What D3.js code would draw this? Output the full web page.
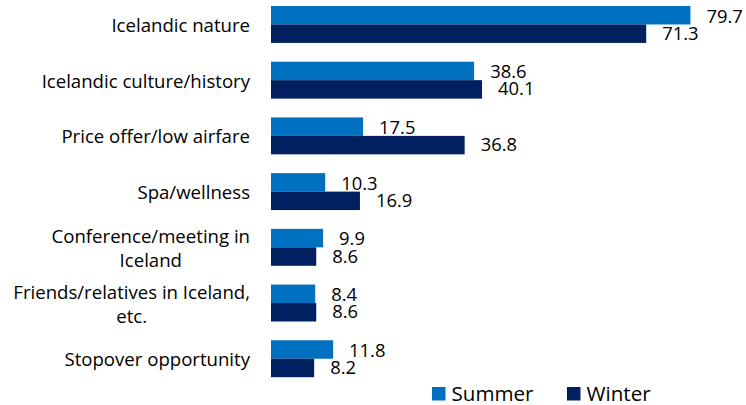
<!DOCTYPE html>
<html lang="en">
<head>
<meta charset="UTF-8">
<title>Reasons for travel</title>
<script src="https://d3js.org/d3.v7.min.js"></script>
<style>
  body { margin: 0; background: #fff; }
  text { font-family: "Open Sans", sans-serif; fill: #000; }
  .cat { font-size: 18.6px; }
  .val { font-size: 18.4px; }
  .legend text { font-size: 20.6px; }
</style>
</head>
<body>
<script>
// categories (\n marks where the label wraps)
const categories = [
  "Icelandic nature",
  "Icelandic culture/history",
  "Price offer/low airfare",
  "Spa/wellness",
  "Conference/meeting in\nIceland",
  "Friends/relatives in Iceland,\netc.",
  "Stopover opportunity"
];
const series = ["Summer", "Winter"];
const summer = [79.7, 38.6, 17.5, 10.3, 9.9, 8.4, 11.8];
const winter = [71.3, 40.1, 36.8, 16.9, 8.6, 8.6, 8.2];
const colors = ["#0070C0", "#002060"];

const width = 746, height = 405;

const svg = d3.select("body").append("svg")
    .attr("width", width)
    .attr("height", height);

const x = d3.scaleLinear().domain([0, 80]).range([271, 692]);
const y = d3.scaleBand().domain(categories).range([-3.4, 386.6])
    .paddingInner(0.337).paddingOuter(0.1685);
const ySub = d3.scaleBand().domain(series).range([0, y.bandwidth()]);

const rows = categories.map((c, i) => ({cat: c, vals: [summer[i], winter[i]]}));

const group = svg.selectAll(".grp")
    .data(rows)
    .enter().append("g")
    .attr("class", "grp")
    .attr("transform", d => "translate(0," + y(d.cat) + ")");

group.selectAll("rect")
    .data(d => d.vals.map((v, k) => ({s: series[k], v: v, k: k})))
    .enter().append("rect")
    .attr("x", x(0))
    .attr("y", d => ySub(d.s))
    .attr("width", d => x(d.v) - x(0))
    .attr("height", ySub.bandwidth())
    .attr("fill", d => colors[d.k]);

group.selectAll(".val")
    .data(d => d.vals.map((v, k) => ({s: series[k], v: v, k: k})))
    .enter().append("text")
    .attr("class", "val")
    .attr("x", d => x(d.v) + 16)
    .attr("y", d => ySub(d.s) + ySub.bandwidth() / 2)
    .attr("dy", d => d.k === 0 ? "0.4em" : "0.33em")
    .text(d => d.v.toFixed(1));

// category labels, multi-line ones centred on their longest line
const labelRight = 250;
const lineH = 24;
group.each(function(d) {
    const g = d3.select(this);
    const lines = d.cat.split("\n");
    const t = g.append("text")
        .attr("class", "cat")
        .attr("text-anchor", "end")
        .attr("dominant-baseline", "central");
    const cy = y.bandwidth() / 2;
    if (lines.length === 1) {
        t.attr("x", labelRight).attr("y", cy).text(lines[0]);
        return;
    }
    t.attr("text-anchor", "middle");
    const spans = lines.map((ln, j) => t.append("tspan")
        .attr("y", cy + (j - (lines.length - 1) / 2) * lineH)
        .text(ln));
    const maxW = d3.max(spans, s => s.node().getComputedTextLength());
    spans.forEach(s => s.attr("x", labelRight - maxW / 2));
});

// legend
const legend = svg.append("g").attr("class", "legend");
const legX = [432, 567];
series.forEach((s, k) => {
    legend.append("rect")
        .attr("x", legX[k]).attr("y", 387)
        .attr("width", 13.5).attr("height", 13.5)
        .attr("fill", colors[k]);
    legend.append("text")
        .attr("x", legX[k] + 19.5).attr("y", 400.5)
        .text(s);
});
</script>
</body>
</html>
